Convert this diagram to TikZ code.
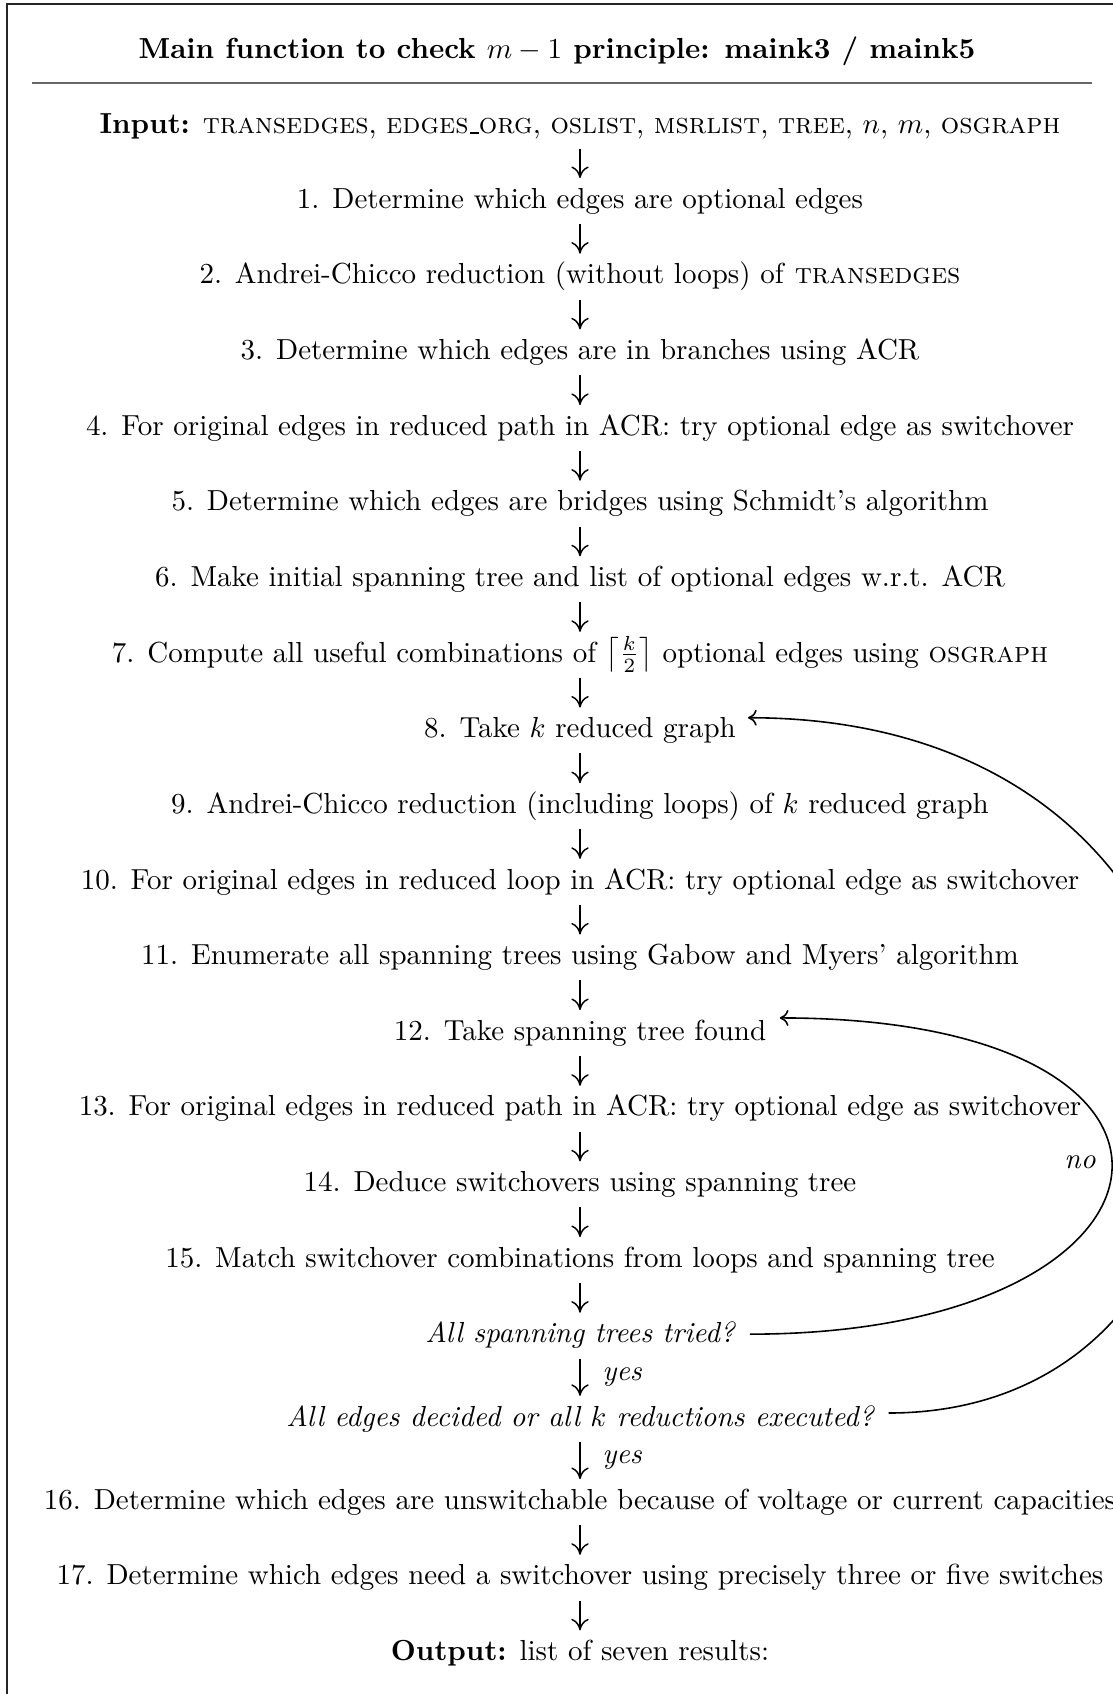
\documentclass[tikz,border=0pt]{standalone}
\usetikzlibrary{arrows.meta,calc}
% short low rule, as the classic \_ draws it
\newcommand{\lowbar}{\leavevmode\kern.06em\vbox{\hrule width.3em}}
\begin{document}
\begin{tikzpicture}[x=0.345pt,y=-0.345pt,
  row/.style={inner sep=0pt, text height=7pt, text depth=2pt},
  flow/.style={-{Computer Modern Rightarrow[length=4pt,width=6pt]}, line width=0.5pt,
    shorten <=3.2pt, shorten >=3.2pt},
  back/.style={-{Computer Modern Rightarrow[length=3pt,width=5.5pt]}, line width=0.55pt},
  answer/.style={inner sep=0pt, font=\itshape}]
\clip (0,0) rectangle (1113,1694);

% frame and title rule
\draw[line width=0.45pt, black!85] (7,1700) -- (7,4) -- (1120,4);
\draw[line width=0.5pt, black!60] (32,83) -- (1092,83);

\node[row, font=\bfseries] (title) at (557,51)
  {Main function to check $m-1$ principle: maink3 / maink5};

% main column
\node[row] (in) at (580,126.4) {\textbf{Input:} \textsc{transedges}, \textsc{edges\lowbar org}, \textsc{oslist}, \textsc{msrlist}, \textsc{tree}, $n$, $m$, \textsc{osgraph}};
\node[row] (s1) at (580,201.0) {1. Determine which edges are optional edges};
\node[row] (s2) at (580,276.6) {2. Andrei-Chicco reduction (without loops) of \textsc{transedges}};
\node[row] (s3) at (580,352.3) {3. Determine which edges are in branches using ACR};
\node[row] (s4) at (580,427.9) {4. For original edges in reduced path in ACR: try optional edge as switchover};
\node[row] (s5) at (580,503.6) {5. Determine which edges are bridges using Schmidt's algorithm};
\node[row] (s6) at (580,579.2) {6. Make initial spanning tree and list of optional edges w.r.t. ACR};
\node[row] (s7) at (580,654.8) {7. Compute all useful combinations of $\left\lceil\frac{k}{2}\right\rceil$ optional edges using \textsc{osgraph}};
\node[row] (s8) at (580,730.5) {8. Take $k$ reduced graph};
\node[row] (s9) at (580,806.1) {9. Andrei-Chicco reduction (including loops) of $k$ reduced graph};
\node[row] (s10) at (580,881.8) {10. For original edges in reduced loop in ACR: try optional edge as switchover};
\node[row] (s11) at (580,957.4) {11. Enumerate all spanning trees using Gabow and Myers' algorithm};
\node[row] (s12) at (580,1033.0) {12. Take spanning tree found};
\node[row] (s13) at (580,1108.7) {13. For original edges in reduced path in ACR: try optional edge as switchover};
\node[row] (s14) at (580,1184.3) {14. Deduce switchovers using spanning tree};
\node[row] (s15) at (580,1260.0) {15. Match switchover combinations from loops and spanning tree};
\node[row, font=\itshape] (tried) at (580,1335.6) {All spanning trees tried?};
\node[row, font=\itshape] (alle) at (580,1418.8) {All edges decided or all $k$ reductions executed?};
\node[row] (s16) at (580,1502.0) {16. Determine which edges are unswitchable because of voltage or current capacities};
\node[row] (s17) at (580,1577.7) {17. Determine which edges need a switchover using precisely three or five switches};
\node[row] (out) at (580,1653.3) {\textbf{Output:} list of seven results:};

% downward flow
\foreach \a/\b in {in/s1,s1/s2,s2/s3,s3/s4,s4/s5,s5/s6,s6/s7,s7/s8,s8/s9,s9/s10,
                   s10/s11,s11/s12,s12/s13,s13/s14,s14/s15,s15/tried,s16/s17,s17/out}
  \draw[flow] (\a) -- (\b);
\draw[flow] (tried) -- node[answer, midway, right=7.5pt] (y1) {yes} (alle);
\draw[flow] (alle) -- node[answer, midway, right=7.5pt] (y2) {yes} (s16);

% loops back
\draw[back] ([xshift=5pt,yshift=0.5pt]tried.east)
  .. controls +(452,0) and +(472,0) .. ([xshift=4.5pt,yshift=0.5pt]s12.north east);
\node[answer] (no) at (1080,1162) {no};
\draw[back] ([xshift=5pt,yshift=2pt]alle.east)
  .. controls +(428,0) and +(567,0) .. ([xshift=4pt,yshift=-0.3pt]s8.north east);
\end{tikzpicture}
\end{document}
